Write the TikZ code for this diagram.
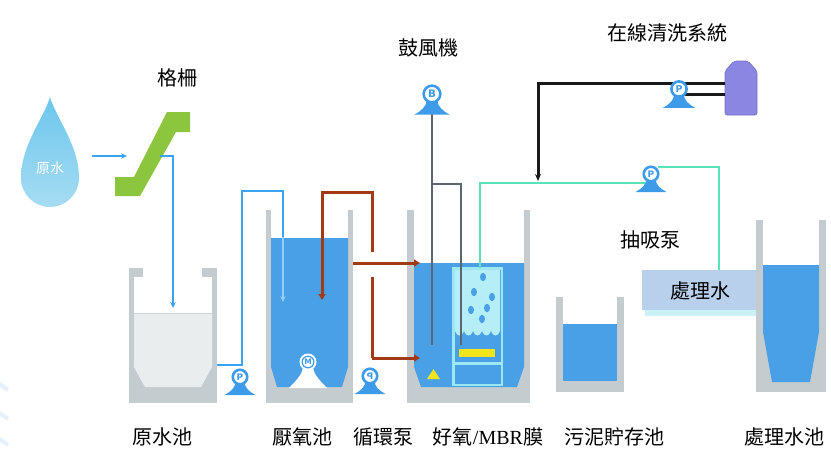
\documentclass[tikz,border=0pt]{standalone}
\usepackage{fontspec}
\usepackage{graphicx}
\setmainfont{Liberation Serif}
\newfontfamily\cjk{Noto Sans CJK TC}
\newfontfamily\symfont{DejaVu Sans}
\usetikzlibrary{arrows.meta}

\definecolor{wallgray}{HTML}{C4CCCF}
\definecolor{waterblue}{HTML}{4AA0E6}
\definecolor{pblue}{HTML}{3D9BE9}
\definecolor{pipeblue}{HTML}{3AA3F2}
\definecolor{rawwater}{HTML}{EAEDEE}
\definecolor{rawline}{HTML}{CBD3D6}
\definecolor{brownpipe}{HTML}{A23A17}
\definecolor{mintpipe}{HTML}{57E2B8}
\definecolor{airpipe}{HTML}{5B6670}
\definecolor{grillegreen}{HTML}{8CC63E}
\definecolor{membranefill}{HTML}{B5EEF6}
\definecolor{framecyan}{HTML}{9BE8F2}
\definecolor{tankpurple}{HTML}{8A86E2}
\definecolor{boxblue}{HTML}{B9D0EC}
\definecolor{boxshadow}{HTML}{C9F1F6}
\definecolor{droptop}{HTML}{6CC6EC}
\definecolor{dropbot}{HTML}{A6DCF3}
\definecolor{partyellow}{HTML}{F3E51B}
\definecolor{edgestroke}{HTML}{E6F0FA}

% pump / blower symbol: name, centre, letter, scale
\newcommand\pumpicon[4]{%
  \begin{scope}[shift={(#2)}, scale=#4, transform shape]
    \fill[pblue] (-4.5,5) .. controls (-5,11) and (-9,14.5) .. (-15.5,18)
      -- (15.5,18) .. controls (9,14.5) and (5,11) .. (4.5,5) -- cycle;
    \node[pumphead] (#1) at (0,0) {#3};
  \end{scope}}

\tikzset{
  pumphead/.style={circle, draw=pblue, fill=white, line width=2.6pt,
    minimum size=14.5pt, inner sep=0pt, text=pblue,
    font=\symfont\bfseries\fontsize{9}{9}\selectfont},
  lbl/.style={font=\cjk\fontsize{20}{20}\selectfont, inner sep=0pt},
  bluepipe/.style={draw=pipeblue, line width=2pt},
  brownline/.style={draw=brownpipe, line width=3pt},
  blackline/.style={draw=black!90, line width=3pt},
  mintline/.style={draw=mintpipe, line width=2.6pt},
  airline/.style={draw=airpipe, line width=2pt},
  tip/.style={-{Stealth[length=6pt,width=5.5pt]}},
  btip/.style={-{Triangle[length=6pt,width=7pt]}},
}

\begin{document}
\begin{tikzpicture}[x=1pt, y=-1pt]
\useasboundingbox (0,0) rectangle (831,450);
\fill[white] (0,0) rectangle (831,450);

% faint strokes at the left edge
\foreach \yy in {383,412,438}
  \draw[edgestroke, line width=4pt] (-2,\yy) -- (8,\yy+7);

% ---------- raw water drop ----------
\shade[top color=droptop, bottom color=dropbot]
  (50,97) .. controls (56,118) and (79,145) .. (79,178)
  .. controls (79,194) and (66,207) .. (50,207)
  .. controls (34,207) and (21,194) .. (21,178)
  .. controls (21,145) and (44,118) .. (50,97) -- cycle;
\node[font=\cjk\fontsize{14}{14}\selectfont, text=white] (drop) at (50,168) {原水};
\coordinate (drop-out) at (92,156);
\coordinate (grille-in) at (127,156);
\draw[bluepipe, tip] (drop-out) -- (grille-in);

% ---------- bar screen ----------
\fill[grillegreen] (167,112) -- (190,112) -- (190,132) -- (176,132)
  -- (140,196) -- (115,196) -- (115,177) -- (134,177) -- cycle;
\node[lbl] (grille-lbl) at (177,78) {格柵};
\coordinate (grille-out) at (160,156);

% ---------- raw water tank ----------
\fill[wallgray] (129,268) rectangle (217,403);
\fill[white] (134,277) rectangle (212,313);
\fill[white] (143,267) rectangle (202,278);
\fill[rawwater] (134,313) -- (212,313) -- (212,367) -- (201,387)
  -- (145,387) -- (134,367) -- cycle;
\draw[rawline, line width=1.5pt] (134,313.5) -- (212,313.5);
\coordinate (raw-in) at (173,308);
\coordinate (raw-out) at (217,365);
\draw[bluepipe, tip] (grille-out) -| (raw-in);

% ---------- anaerobic tank ----------
\fill[wallgray] (266,210) rectangle (353,403);
\fill[white] (271,210) rectangle (348,238);
\fill[waterblue] (271,238) -- (348,238) -- (348,367) -- (342,387)
  -- (277,387) -- (271,367) -- cycle;
% mixer
\fill[white] (303,368) .. controls (302,374) and (297,380) .. (289,388)
  -- (327,388) .. controls (319,380) and (314,374) .. (313,368) -- cycle;
\node[circle, fill=white, minimum size=17pt, inner sep=0pt] (mixer) at (308,362) {};
\draw[pblue, line width=1.2pt] (mixer.center) circle (5.8pt);
\node[text=pblue, font=\symfont\bfseries\fontsize{7.5}{7.5}\selectfont] at (mixer.center) {M};
\coordinate (ana-in) at (283,302);
\coordinate (ana-ret) at (322,300);
\coordinate (ana-over) at (353,263);

% ---------- aerobic / MBR tank ----------
\fill[wallgray] (407,210) rectangle (530,403);
\fill[white] (414,210) rectangle (524,263);
\fill[waterblue] (414,263) -- (524,263) -- (524,367) -- (517,387)
  -- (421,387) -- (414,367) -- cycle;
% membrane module
\fill[membranefill] (455,270) -- (500,270) -- (500,331)
  .. controls (498,337) and (493,337) .. (491,331)
  .. controls (489,337) and (484,337) .. (482,331)
  .. controls (480,337) and (475,337) .. (473,331)
  .. controls (471,337) and (466,337) .. (464,331)
  .. controls (462,337) and (457,337) .. (455,331) -- cycle;
\draw[framecyan, line width=2.6pt] (453.5,268.5) rectangle (502,385);
\draw[framecyan, line width=2.4pt] (453.5,363.5) -- (502,363.5);
\fill[partyellow] (459,349) rectangle (495,357);
\foreach \px/\py in {483/277, 474/292, 492/297, 471/310, 487/308, 482/319}
  \fill[waterblue] (\px,\py) ellipse [x radius=3pt, y radius=4.2pt];
\fill[partyellow] (427,379) -- (440,379) -- (433.5,369) -- cycle;
\coordinate (mbr-top) at (480,268);
\coordinate (aer-in-top) at (420,263);
\coordinate (aer-in-bot) at (420,358);

% ---------- sludge storage tank ----------
\fill[wallgray] (556,297) rectangle (624,392);
\fill[white] (563,297) rectangle (617,324);
\fill[waterblue] (563,324) rectangle (617,381);

% ---------- treated water box and tank ----------
\fill[boxshadow] (645,306) rectangle (757,316);
\fill[boxblue] (642,270) rectangle (757,310);
\node[lbl] (treated-box) at (700,291) {處理水};
\coordinate (box-top) at (719,270);
\fill[wallgray] (756,220) rectangle (826,392);
\fill[white] (763,220) rectangle (819,265);
\fill[waterblue] (763,265) -- (819,265) -- (819,332) -- (810,382)
  -- (772,382) -- (763,332) -- cycle;

% ---------- cleaning chemical tank ----------
\filldraw[fill=tankpurple, draw=tankpurple!85!black, line width=0.6pt, rounded corners=2pt]
  (725,115) -- (725,71) -- (734,61) -- (748,61) -- (757,71) -- (757,115) -- cycle;
\coordinate (cip-hi) at (725,83);
\coordinate (cip-lo) at (725,94);
\coordinate (cip-drop) at (538,181);

% ---------- pipes ----------
% feed pump line
\draw[bluepipe] (raw-out) -- (242,365) -- (242,191) -- (283,191) -- (283,238);
\draw[pipeblue!55!white, line width=2pt, tip] (283,237) -- (ana-in);
% recirculation
\draw[brownline, btip] (372,358) -- (aer-in-bot);
\draw[brownline] (372,358) -- (372,277);
\draw[brownline, btip] (372,252) -- (372,192) -- (322,192) -- (ana-ret);
\draw[brownline, btip] (ana-over) -- (aer-in-top);
% air supply
\draw[airline] (432,112) -- (432,345);
\draw[airline] (432,184) -- (461,184) -- (461,345);
% permeate line
\draw[mintline] (mbr-top) |- (651,183);
\draw[mintline] (658,167) -| (box-top);
% cleaning line
\draw[blackline, -{Stealth[length=7pt,width=6pt]}] (cip-hi) -| (cip-drop);
\draw[blackline] (684,94) -- (cip-lo);

% ---------- pumps ----------
\pumpicon{feedpump}{240,377}{P}{1}
\pumpicon{recpump}{370,376}{\scalebox{-1}[1]{P}}{1}
\pumpicon{blower}{432,94}{B}{1.15}
\pumpicon{suctpump}{651,174}{P}{1}
\pumpicon{cippump}{679,89}{P}{1.05}

% ---------- labels ----------
\node[lbl] (blower-lbl) at (428,48) {鼓風機};
\node[lbl] (cip-lbl) at (667,33) {在線清洗系統};
\node[lbl] (suct-lbl) at (650,240) {抽吸泵};
\node[lbl] (l1) at (162,437) {原水池};
\node[lbl] (l2) at (302,437) {厭氧池};
\node[lbl] (l3) at (383,437) {循環泵};
\node[lbl] (l4) at (488,437) {好氧{\rmfamily\fontsize{20}{20}\selectfont /MBR}膜};
\node[lbl] (l5) at (614,437) {污泥貯存池};
\node[lbl] (l6) at (784,437) {處理水池};
\end{tikzpicture}
\end{document}
